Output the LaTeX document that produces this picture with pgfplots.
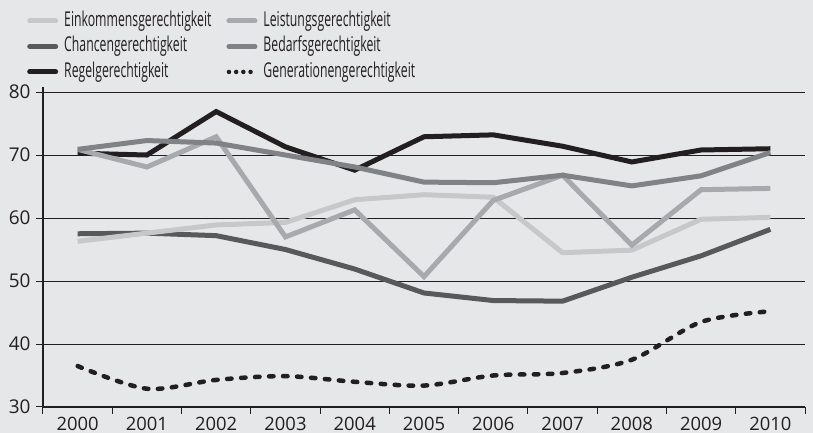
\documentclass[border=0pt]{standalone}
\usepackage{pgfplots}
\pgfplotsset{compat=1.18}
\usepackage{fontspec}
\setmainfont{Open Sans}
\newfontfamily\legfont[FakeStretch=0.6]{Open Sans}
\definecolor{bgcol}{HTML}{E6E7E8}
\definecolor{cEink}{HTML}{C7C8CA}
\definecolor{cLeis}{HTML}{A7A9AC}
\definecolor{cChan}{HTML}{58595B}
\definecolor{cBeda}{HTML}{808285}
\definecolor{cRege}{HTML}{231F20}
\definecolor{cGrid}{HTML}{231F20}
\begin{document}
\begin{tikzpicture}
\fill[bgcol] (-43bp,-26bp) rectangle (770bp,407bp);
\begin{axis}[
  at={(0,0)}, anchor=south west,
  scale only axis, width=762bp, height=320bp,
  xmin=-0.5, xmax=10.5, ymin=30, ymax=80.8,
  axis x line=bottom, axis y line=left,
  axis line style={-, draw=cGrid, line width=1.1bp},
  xtick={-0.5,0.5,...,10.5}, xticklabels={},
  extra x ticks={0,1,...,10},
  extra x tick labels={2000,2001,2002,2003,2004,2005,2006,2007,2008,2009,2010},
  extra x tick style={tick style={draw=none}},
  ytick={30,40,...,80},
  ymajorgrids, grid style={draw=cGrid, line width=0.9bp},
  tick align=outside, major tick length=7bp,
  tick style={draw=cGrid, line width=1bp},
  /pgf/number format/assume math mode=true,
  tick label style={font=\fontsize{19}{22}\selectfont, text=cRege},
  yticklabel style={xshift=-2bp},
  xticklabel style={font=\fontsize{18.5}{21}\selectfont, inner sep=0pt, text depth=0pt, yshift=-2.5bp},
  legend columns=2,
  legend style={at={(axis description cs:-0.021,1.236)}, anchor=north west,
    draw=none, fill=none, inner sep=0pt, row sep=7bp,
    font=\legfont\fontsize{20.5}{23}\selectfont,
    nodes={inner sep=0pt, text height=14.5bp, text depth=4bp, text=cRege},
    /tikz/every odd column/.append style={column sep=6bp},
    /tikz/every even column/.append style={column sep=15bp}},
  legend cell align=left,
  legend image code/.code={\draw[#1] (0bp,0bp) -- (26bp,0bp);},
]
\addplot[forget plot, cRege, line width=4.5bp, line cap=round, dash pattern=on 4.5bp off 9.5bp, smooth, tension=0.5]
  coordinates {(0,36.5) (1,32.9) (2,34.3) (3,34.9) (4,34.0) (5,33.4) (6,35.0) (7,35.4) (8,37.5) (9,43.5) (10,45.2)};
\addplot[forget plot, cRege, line width=5bp]
  coordinates {(0,70.3) (1,70.0) (2,76.9) (3,71.3) (4,67.6) (5,72.9) (6,73.2) (7,71.4) (8,68.9) (9,70.8) (10,71.0)};
\addplot[forget plot, cChan, line width=5bp]
  coordinates {(0,57.5) (1,57.6) (2,57.2) (3,55.0) (4,51.9) (5,48.1) (6,46.9) (7,46.8) (8,50.6) (9,54.0) (10,58.2)};
\addplot[forget plot, cEink, line width=5bp]
  coordinates {(0,56.3) (1,57.6) (2,58.9) (3,59.3) (4,62.9) (5,63.7) (6,63.3) (7,54.5) (8,54.9) (9,59.8) (10,60.1)};
\addplot[forget plot, cLeis, line width=5bp]
  coordinates {(0,70.9) (1,68.1) (2,72.9) (3,57.0) (4,61.3) (5,50.7) (6,62.8) (7,66.8) (8,55.7) (9,64.5) (10,64.7)};
\addplot[forget plot, cBeda, line width=5bp]
  coordinates {(0,70.9) (1,72.3) (2,71.9) (3,70.0) (4,68.1) (5,65.7) (6,65.6) (7,66.8) (8,65.1) (9,66.7) (10,70.4)};
\addlegendimage{cEink, line width=5bp, line cap=round}
\addlegendentry{Einkommensgerechtigkeit}
\addlegendimage{cLeis, line width=5bp, line cap=round}
\addlegendentry{Leistungsgerechtigkeit}
\addlegendimage{cChan, line width=5bp, line cap=round}
\addlegendentry{Chancengerechtigkeit}
\addlegendimage{cBeda, line width=5bp, line cap=round}
\addlegendentry{Bedarfsgerechtigkeit}
\addlegendimage{cRege, line width=5bp, line cap=round}
\addlegendentry{Regelgerechtigkeit}
\addlegendimage{cRege, line width=4.5bp, line cap=round, dash pattern=on 0bp off 7.2bp}
\addlegendentry{Generationengerechtigkeit}
\end{axis}
\pgfresetboundingbox
\path[use as bounding box] (-43bp,-26bp) rectangle (770bp,407bp);
\end{tikzpicture}
\end{document}
